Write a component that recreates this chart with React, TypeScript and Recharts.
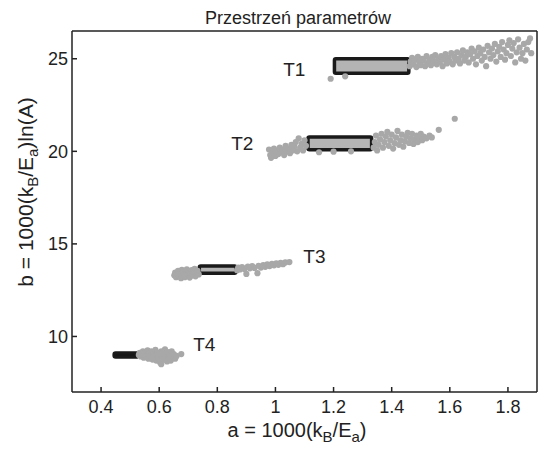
import { ScatterChart, Scatter, XAxis, YAxis, ReferenceArea, ReferenceDot } from 'recharts';

const xTicks = [0.4, 0.6, 0.8, 1, 1.2, 1.4, 1.6, 1.8];
const yTicks = [10, 15, 20, 25];

// points hidden under the boxes are left out
const t1Points = [
  [1.19, 23.92], [1.24, 24.05],
  [1.462, 24.6], [1.465, 24.85], [1.47, 25.05], [1.475, 24.7], [1.48, 24.95], [1.485, 24.55], [1.49, 25.1], [1.495, 24.8],
  [1.5, 24.65], [1.505, 25.0], [1.51, 24.9], [1.515, 24.6], [1.52, 25.15], [1.525, 24.75], [1.53, 24.95], [1.535, 24.65],
  [1.54, 25.1], [1.545, 24.85], [1.55, 25.2], [1.555, 24.7], [1.56, 25.0], [1.565, 24.8], [1.57, 25.15], [1.575, 24.6],
  [1.58, 24.95], [1.585, 25.25], [1.59, 24.75], [1.595, 25.05], [1.6, 24.85], [1.605, 25.3], [1.61, 24.7], [1.615, 25.1],
  [1.62, 24.9], [1.625, 25.35], [1.63, 25.0], [1.635, 24.75], [1.64, 25.2], [1.645, 25.45], [1.65, 24.9], [1.655, 25.1],
  [1.66, 25.35], [1.665, 24.8], [1.67, 25.25], [1.675, 25.55], [1.68, 25.0], [1.685, 25.4], [1.69, 24.7], [1.695, 25.15],
  [1.7, 25.6], [1.705, 25.3], [1.71, 24.9], [1.715, 25.5], [1.72, 25.1], [1.725, 24.6], [1.73, 25.7], [1.735, 25.35],
  [1.74, 25.0], [1.745, 25.55], [1.75, 25.2], [1.755, 25.8], [1.76, 24.85], [1.765, 25.4], [1.77, 25.65], [1.775, 25.1],
  [1.78, 25.9], [1.785, 25.5], [1.79, 24.95], [1.795, 25.3], [1.8, 25.75], [1.805, 26.0], [1.81, 25.15], [1.815, 25.55],
  [1.82, 25.85], [1.825, 24.8], [1.83, 25.35], [1.835, 26.05], [1.84, 25.6], [1.845, 25.0], [1.85, 25.3], [1.855, 25.8],
  [1.86, 24.9], [1.865, 25.5], [1.87, 25.9], [1.876, 26.1], [1.88, 25.3],
];

const t2Points = [
  [0.978, 20.1], [0.982, 19.8], [0.985, 19.65], [0.99, 19.95], [0.995, 20.15], [1.0, 19.75], [1.005, 20.0], [1.01, 19.85],
  [1.015, 20.2], [1.02, 19.95], [1.025, 20.1], [1.03, 19.8], [1.035, 20.3], [1.04, 20.0], [1.045, 20.15], [1.05, 19.9],
  [1.055, 20.35], [1.06, 20.05], [1.065, 20.25], [1.07, 20.5], [1.075, 20.0], [1.08, 20.7], [1.085, 20.2], [1.09, 20.4],
  [1.095, 20.05], [1.1, 20.6], [1.105, 20.3],
  [1.15, 19.95], [1.2, 19.98], [1.26, 20.0],
  [1.338, 20.2], [1.342, 20.5], [1.346, 20.85], [1.35, 20.05], [1.355, 20.35], [1.36, 20.65], [1.365, 20.95], [1.37, 20.2],
  [1.375, 20.5], [1.38, 20.8], [1.385, 21.05], [1.39, 20.3], [1.395, 20.6], [1.4, 20.9], [1.405, 20.15], [1.41, 20.45],
  [1.415, 20.75], [1.42, 21.1], [1.425, 20.35], [1.43, 20.6], [1.435, 20.9], [1.44, 20.25], [1.445, 20.55], [1.45, 20.8],
  [1.455, 21.0], [1.46, 20.45], [1.465, 20.7], [1.47, 20.95], [1.475, 20.4], [1.48, 20.65], [1.485, 20.85], [1.49, 20.5],
  [1.495, 20.75], [1.5, 20.95], [1.505, 20.6], [1.51, 20.8], [1.52, 20.7], [1.53, 20.85], [1.538, 20.75], [1.562, 21.16],
  [1.617, 21.76],
];

const t3Points = [
  [0.652, 13.3], [0.655, 13.45], [0.658, 13.2], [0.662, 13.38], [0.665, 13.55], [0.668, 13.25], [0.672, 13.45], [0.675, 13.15],
  [0.678, 13.6], [0.682, 13.35], [0.685, 13.5], [0.688, 13.2], [0.692, 13.42], [0.695, 13.62], [0.698, 13.28], [0.702, 13.5],
  [0.705, 13.18], [0.708, 13.38], [0.712, 13.58], [0.715, 13.3], [0.718, 13.48], [0.722, 13.65], [0.725, 13.25], [0.728, 13.42],
  [0.732, 13.55], [0.736, 13.35],
  [0.868, 13.58], [0.872, 13.72], [0.878, 13.62], [0.885, 13.75], [0.893, 13.65], [0.9, 13.38], [0.905, 13.78], [0.912, 13.68],
  [0.92, 13.8], [0.928, 13.7], [0.938, 13.42], [0.942, 13.82], [0.95, 13.72], [0.958, 13.86], [0.965, 13.76], [0.972, 13.9],
  [0.98, 13.8], [0.988, 13.92], [0.995, 13.84], [1.003, 13.95], [1.01, 13.87], [1.018, 13.97], [1.026, 13.9], [1.034, 14.0],
  [1.048, 14.02],
];

const t4Points = [
  [0.53, 9.0], [0.533, 9.12], [0.537, 8.92], [0.54, 9.05], [0.544, 9.2], [0.547, 8.85], [0.55, 9.0], [0.553, 9.15],
  [0.557, 8.95], [0.56, 9.25], [0.563, 8.8], [0.567, 9.1], [0.57, 8.95], [0.573, 9.2], [0.577, 8.75], [0.58, 9.05],
  [0.583, 8.9], [0.587, 9.28], [0.59, 8.7], [0.593, 9.12], [0.597, 8.85], [0.6, 9.0], [0.603, 8.6], [0.607, 9.2],
  [0.607, 8.5], [0.61, 8.9], [0.613, 9.1], [0.617, 8.75], [0.62, 9.3], [0.623, 8.95], [0.627, 8.65], [0.63, 9.15],
  [0.633, 8.85], [0.637, 9.05], [0.64, 8.7], [0.643, 9.2], [0.647, 8.9], [0.65, 9.05], [0.655, 8.8], [0.66, 8.95],
  [0.676, 9.05],
];

// parameter boxes: [a1, a2, b1, b2]
const boxNames = ['T1', 'T2', 'T3', 'T4'];
const boxRanges = [
  [1.203, 1.459, 24.22, 25.0],
  [1.112, 1.331, 20.08, 20.78],
  [0.738, 0.864, 13.41, 13.81],
  [0.445, 0.528, 8.89, 9.11],
];
const boxFills = ['#b4b4b4', '#b4b4b4', '#b4b4b4', '#111'];

// label anchor points [a, b]
const labelPos = [
  [1.065, 24.46],
  [0.886, 20.46],
  [1.134, 14.35],
  [0.755, 9.59],
];

const toRows = (pts: number[][]) => pts.map(([a, b]) => ({ a, b }));
const allPoints = [...t1Points, ...t2Points, ...t3Points, ...t4Points];

const Dot = (props: any) => <circle cx={props.cx} cy={props.cy} r={3.1} fill="#a8a8a8" />;

const YLabel = () => (
  <text transform="translate(33,192) rotate(-90)" textAnchor="middle" fontSize={21} fill="#222">
    b = 1000(k<tspan dy={5} fontSize={15}>B</tspan>
    <tspan dy={-5}>/E</tspan>
    <tspan dy={5} fontSize={15}>a</tspan>
    <tspan dy={-5}>)ln(A)</tspan>
  </text>
);

const XLabel = () => (
  <text x={297} y={437} textAnchor="middle" fontSize={20} fill="#222">
    a = 1000(k<tspan dy={5} fontSize={15}>B</tspan>
    <tspan dy={-5}>/E</tspan>
    <tspan dy={5} fontSize={15}>a</tspan>
    <tspan dy={-5}>)</tspan>
  </text>
);

export default function App() {
  const axisLine = { stroke: '#222', strokeWidth: 1.5 };
  return (
    <div style={{ position: 'absolute', left: 0, top: 0, background: '#fff' }}>
      <ScatterChart
        width={539}
        height={449}
        margin={{ top: 30, right: 0, bottom: 0, left: 0 }}
        style={{ fontFamily: '"Liberation Sans", Arial, sans-serif' }}
      >
        <XAxis
          dataKey="a"
          type="number"
          domain={[0.3, 1.9]}
          ticks={xTicks}
          allowDataOverflow
          height={57}
          axisLine={axisLine}
          tickLine={axisLine}
          tickSize={-5}
          tickMargin={13}
          interval={0}
          tick={{ fontSize: 18, fill: '#222' }}
        />
        <XAxis
          xAxisId="top"
          orientation="top"
          type="number"
          domain={[0.3, 1.9]}
          ticks={xTicks}
          allowDataOverflow
          height={1}
          axisLine={axisLine}
          tickLine={axisLine}
          tickSize={-5}
          interval={0}
          tick={false}
        />
        <YAxis
          dataKey="b"
          type="number"
          domain={[7, 26.5]}
          ticks={yTicks}
          allowDataOverflow
          width={72}
          axisLine={axisLine}
          tickLine={axisLine}
          tickSize={-5}
          tickMargin={9}
          interval={0}
          tick={{ fontSize: 18, fill: '#222' }}
        />
        <YAxis
          yAxisId="right"
          orientation="right"
          type="number"
          domain={[7, 26.5]}
          ticks={yTicks}
          allowDataOverflow
          width={2}
          axisLine={axisLine}
          tickLine={axisLine}
          tickSize={-5}
          interval={0}
          tick={false}
        />
        <Scatter data={toRows(allPoints)} shape={Dot} isAnimationActive={false} />
        {boxRanges.map(([a1, a2, b1, b2], i) => (
          <ReferenceArea
            key={boxNames[i]}
            x1={a1}
            x2={a2}
            y1={b1}
            y2={b2}
            fill={boxFills[i]}
            fillOpacity={1}
            stroke="#1a1a1a"
            strokeWidth={3.5}
            radius={1.5}
          />
        ))}
        {labelPos.map(([a, b], i) => (
          <ReferenceDot
            key={'lbl' + boxNames[i]}
            x={a}
            y={b}
            r={1}
            fill="none"
            stroke="none"
            label={{ value: boxNames[i], position: 'center', fontSize: 19, fill: '#222' }}
          />
        ))}
        <text x={298} y={24} textAnchor="middle" fontSize={18} fill="#222">
          Przestrzeń parametrów
        </text>
        <XLabel />
        <YLabel />
      </ScatterChart>
    </div>
  );
}
